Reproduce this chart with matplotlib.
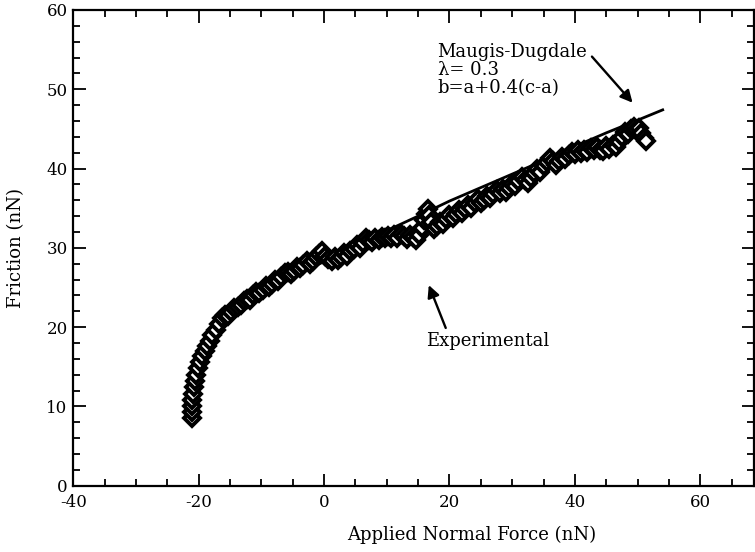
import matplotlib
matplotlib.use("Agg")
import matplotlib.pyplot as plt
from matplotlib.ticker import MultipleLocator

plt.rcParams['font.family'] = ['DejaVu Serif']
plt.rcParams['axes.unicode_minus'] = False

# Maugis-Dugdale fit (lambda = 0.3)
md_load = [-21.0, -20.8, -20.4, -19.8, -19.0, -18.0, -16.5, -15.0, -13.0, -11.0,
           -9.0, -7.0, -5.0, -3.0, -1.0, 1.0, 4.0, 9.0, 15.0, 20.0,
           25.0, 30.0, 35.0, 40.0, 45.0, 50.0, 54.0]
md_friction = [11.5, 13.0, 14.6, 16.0, 17.4, 18.7, 20.2, 21.3, 22.6, 23.7,
               24.7, 25.6, 26.4, 27.2, 27.9, 28.6, 29.7, 31.8, 34.0, 35.9,
               37.6, 39.3, 41.0, 42.8, 44.5, 46.1, 47.4]

# measured friction vs applied load
exp_load = [-21.1, -21.1, -21.0, -21.0, -20.9, -20.8, -20.6, -20.4, -20.1, -19.8,
            -19.4, -19.0, -18.6, -18.2, -17.8, -17.3, -16.8, -16.3, -15.8, -15.3,
            -14.8, -14.3, -13.8, -13.3, -12.8, -12.3, -11.8, -11.3, -10.8, -10.3,
            -9.8, -9.3, -8.8, -8.3, -7.8, -7.3, -6.8, -6.3, -5.8, -5.3,
            -4.8, -4.3, -3.8, -3.3, -2.8, -2.3, -1.8, -1.3, -0.8, -0.3,
            0.2, 0.7, 1.2, 1.7, 2.2, 2.7, 3.2, 3.7, 4.2, 4.7,
            5.2, 5.7, 6.2, 6.7, 7.2, 7.7, 8.2, 8.7, 9.2, 9.7,
            10.2, 10.7, 11.2, 11.7, 12.2, 12.7, 13.2, 13.7, 14.2, 14.7,
            15.2, 15.6, 15.9, 16.2, 16.5, 16.8, 17.1, 17.5, 18.0, 18.5,
            19.0, 19.5, 20.0, 20.5, 21.0, 21.5, 22.0, 22.5, 23.0, 23.5,
            24.0, 24.5, 25.0, 25.5, 26.0, 26.5, 27.0, 27.5, 28.0, 28.5,
            29.0, 29.5, 30.0, 30.5, 31.0, 31.5, 32.0, 32.5, 33.0, 33.5,
            34.0, 34.5, 35.0, 35.5, 36.0, 36.5, 37.0, 37.5, 38.0, 38.5,
            39.0, 39.5, 40.0, 40.5, 41.0, 41.5, 42.0, 42.5, 43.0, 43.5,
            44.0, 44.5, 45.0, 45.5, 46.0, 46.5, 47.0, 47.5, 48.0, 48.5,
            49.0, 49.4, 49.8, 50.2, 50.6, 51.0, 51.3]
exp_friction = [8.6, 9.3, 10.0, 10.8, 11.6, 12.4, 13.2, 14.0, 14.8, 15.6,
                16.3, 17.0, 17.6, 18.3, 19.0, 19.6, 20.4, 21.2, 21.5, 21.4,
                21.9, 22.4, 22.6, 22.8, 23.3, 23.5, 23.4, 24.0, 24.4, 24.3,
                24.7, 25.2, 25.1, 25.5, 26.0, 25.8, 26.3, 26.8, 27.0, 26.7,
                27.1, 27.6, 27.5, 27.8, 28.3, 28.0, 28.4, 28.9, 29.2, 29.6,
                29.0, 28.6, 28.3, 28.8, 28.5, 28.9, 29.3, 29.0, 29.6, 29.9,
                30.3, 30.0, 30.6, 31.2, 31.0, 30.8, 31.2, 31.0, 31.4, 31.2,
                31.5, 31.2, 31.6, 31.3, 31.8, 31.5, 31.1, 31.6, 31.4, 31.0,
                31.6, 32.5, 33.5, 34.3, 34.9, 34.2, 33.2, 32.4, 32.7, 33.3,
                33.0, 33.6, 34.2, 33.8, 34.3, 34.8, 34.4, 34.9, 35.4, 35.0,
                35.6, 36.1, 35.7, 36.0, 36.6, 36.3, 36.8, 37.3, 36.9, 37.4,
                37.0, 37.6, 38.1, 37.8, 38.4, 38.9, 38.5, 38.2, 38.8, 39.5,
                40.0, 39.6, 40.3, 40.8, 41.3, 41.0, 40.4, 40.9, 41.5, 41.2,
                41.7, 42.1, 41.8, 42.3, 42.0, 42.4, 42.1, 42.6, 42.3, 42.7,
                42.4, 42.2, 42.8, 42.5, 43.0, 42.7, 43.3, 44.0, 44.6, 44.3,
                45.0, 45.3, 44.8, 45.1, 44.5, 43.9, 43.5]

fig = plt.figure(figsize=(7.55, 5.52), dpi=100)
ax = fig.add_axes([0.097, 0.12, 0.902, 0.862])

ax.plot(md_load, md_friction, color='black', lw=2.0, zorder=2)
ax.plot(exp_load, exp_friction, ls='none', marker='D', ms=8,
        mfc='white', mec='black', mew=2.8, zorder=3)

ax.set_xlim(-40, 68.6)
ax.set_ylim(0, 60)
ax.xaxis.set_major_locator(MultipleLocator(20))
ax.xaxis.set_minor_locator(MultipleLocator(5))
ax.yaxis.set_major_locator(MultipleLocator(10))
ax.yaxis.set_minor_locator(MultipleLocator(2))
ax.tick_params(which='both', direction='in', top=True, right=True,
               labelsize=12, width=1.3)
ax.tick_params(axis='x', pad=6)
ax.tick_params(axis='y', pad=4)
ax.tick_params(which='major', length=9)
ax.tick_params(which='minor', length=5)
for s in ax.spines.values():
    s.set_linewidth(1.6)

ax.set_xlabel('Applied Normal Force (nN)', fontsize=13)
ax.set_ylabel('Friction (nN)', fontsize=13)
ax.xaxis.set_label_coords(0.585, -0.085)
ax.yaxis.set_label_coords(-0.07, 0.5)

ax.annotate('Maugis-Dugdale\n\u03bb= 0.3\nb=a+0.4(c-a)', xy=(49.2, 48.3),
            xytext=(18.1, 55.8), fontsize=13, va='top', ha='left',
            linespacing=1.0,
            arrowprops=dict(arrowstyle='-|>', color='black', lw=1.7,
                            mutation_scale=18, shrinkA=2, shrinkB=0,
                            relpos=(1.0, 0.85)))
ax.annotate('', xy=(16.7, 25.3), xytext=(19.4, 19.9),
            arrowprops=dict(arrowstyle='-|>', color='black', lw=1.7,
                            mutation_scale=18, shrinkA=0, shrinkB=0))
ax.text(16.2, 18.2, 'Experimental', fontsize=13, va='center', ha='left')

fig.savefig('out.png', dpi=100)
